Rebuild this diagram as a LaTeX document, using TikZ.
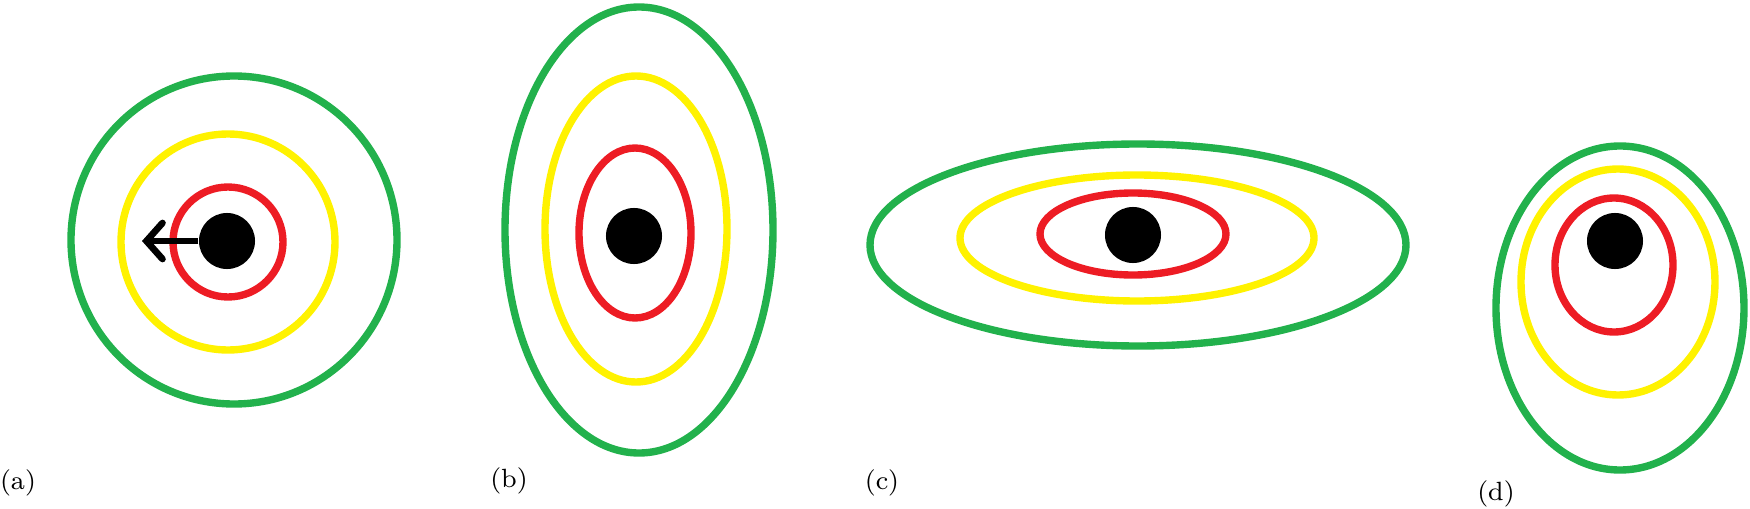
\documentclass[tikz,border=0pt]{standalone}
\usetikzlibrary{arrows.meta}
\definecolor{ringgreen}{RGB}{34,177,76}
\definecolor{ringyellow}{RGB}{255,242,0}
\definecolor{ringred}{RGB}{237,28,36}
\begin{document}
\begin{tikzpicture}
    [%%%%%%%%%%%%%%%%%%%%%%%%%%%%%%
        x=0.01cm,y=-0.01cm,
        ring/.style={line width=2.1pt},
        dot/.style={circle,fill=black,inner sep=0pt,minimum size=0.56cm},
        lab/.style={font=\fontsize{7.5}{9}\selectfont,inner sep=0pt},
        arr/.style={line width=1.9pt,-{Straight Barb[length=0.16cm,width=0.36cm,line cap=round]}}
    ]%%%%%%%%%%%%%%%%%%%%%%%%%%%%%%

\useasboundingbox (0,0) rectangle (1750,509);

% rings: centre x / centre y / x radius / y radius / colour
\foreach \cx/\cy/\rx/\ry/\col in {
    234/240/163/164/ringgreen, 228/242/107/108/ringyellow, 228/242/55/55/ringred,
    639/230/134/223/ringgreen, 636/229/91/153/ringyellow, 635/233/56/85/ringred,
    1138/245/268/101/ringgreen, 1137/238/177/63/ringyellow, 1133/234/93/41/ringred,
    1620/308/124/162/ringgreen, 1618/282/97/113/ringyellow, 1614/265/59/67/ringred}
    \draw[ring,\col] (\cx,\cy) ellipse [x radius=\rx, y radius=\ry];

\node[dot] (dotA) at (227,241) {};
\node[dot] (dotB) at (634,236) {};
\node[dot] (dotC) at (1133,235) {};
\node[dot] (dotD) at (1615,241) {};

\coordinate (tipA) at (142,241);
\draw[arr] (dotA) -- (tipA);

\node[lab] (labA) at (18,483) {(a)};
\node[lab] (labB) at (509,481) {(b)};
\node[lab] (labC) at (882,483) {(c)};
\node[lab] (labD) at (1496,494) {(d)};

\end{tikzpicture}
\end{document}
